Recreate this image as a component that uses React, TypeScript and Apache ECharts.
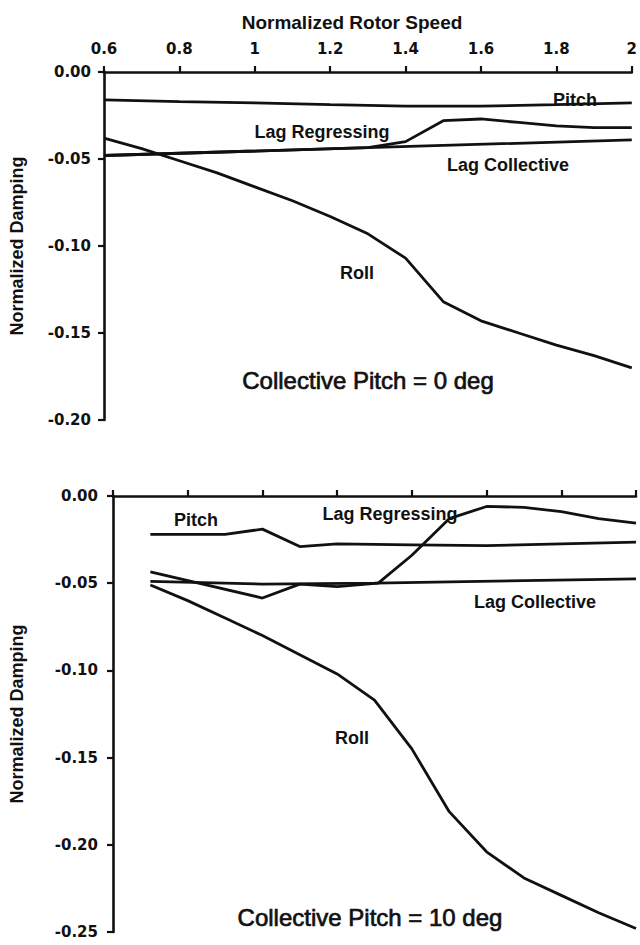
import React, { useEffect, useRef } from "react";
import * as echarts from "echarts";

// Tick labels
const speedTicks = ["0.6", "0.8", "1", "1.2", "1.4", "1.6", "1.8", "2"];
const dampTicks0 = ["0.00", "-0.05", "-0.10", "-0.15", "-0.20"];
const dampTicks10 = ["0.00", "-0.05", "-0.10", "-0.15", "-0.20", "-0.25"];

// Collective pitch = 0 deg
const pitch0Speed = [0.6, 0.8, 1.0, 1.2, 1.4, 1.6, 1.8, 2.0];
const pitch0Damp = [-0.016, -0.017, -0.0178, -0.0188, -0.0196, -0.0196, -0.0188, -0.0178];

const lagColl0Speed = [0.6, 1.3, 2.0];
const lagColl0Damp = [-0.048, -0.0435, -0.039];

const lagReg0Speed = [0.6, 1.3, 1.4, 1.5, 1.6, 1.7, 1.8, 1.9, 2.0];
const lagReg0Damp = [-0.048, -0.0435, -0.040, -0.028, -0.027, -0.029, -0.031, -0.032, -0.032];

const roll0Speed = [0.6, 0.7, 0.8, 0.9, 1.0, 1.1, 1.2, 1.3, 1.4, 1.5, 1.6, 1.7, 1.8, 1.9, 2.0];
const roll0Damp = [-0.038, -0.044, -0.051, -0.058, -0.066, -0.074, -0.083, -0.093, -0.107, -0.132, -0.143, -0.150, -0.157, -0.163, -0.170];

// Collective pitch = 10 deg
const pitch10Speed = [0.7, 0.9, 1.0, 1.1, 1.2, 1.4, 1.6, 1.8, 2.0];
const pitch10Damp = [-0.022, -0.022, -0.019, -0.029, -0.0275, -0.028, -0.0285, -0.0275, -0.0265];

const lagColl10Speed = [0.7, 1.0, 1.3, 2.0];
const lagColl10Damp = [-0.049, -0.0505, -0.050, -0.0475];

const lagReg10Speed = [0.7, 1.0, 1.1, 1.2, 1.31, 1.4, 1.5, 1.6, 1.7, 1.8, 1.9, 2.0];
const lagReg10Damp = [-0.0435, -0.0585, -0.0505, -0.052, -0.050, -0.034, -0.013, -0.006, -0.0065, -0.009, -0.013, -0.0155];

const roll10Speed = [0.7, 0.8, 0.9, 1.0, 1.1, 1.2, 1.3, 1.4, 1.5, 1.6, 1.7, 1.8, 1.9, 2.0];
const roll10Damp = [-0.051, -0.060, -0.070, -0.080, -0.091, -0.102, -0.117, -0.145, -0.181, -0.204, -0.219, -0.229, -0.239, -0.248];

const FONT = "'Liberation Sans', Arial, Helvetica, sans-serif";
const TICK_FONT = "'DejaVu Sans', 'Liberation Sans', sans-serif";
const INK = "#111";

const zip = (xs: number[], ys: number[]) => xs.map((x, i) => [x, ys[i]]);

const curve = (name: string, idx: number, xs: number[], ys: number[]) => ({
  name,
  type: "line",
  xAxisIndex: idx,
  yAxisIndex: idx,
  data: zip(xs, ys),
  symbol: "none",
  smooth: false,
  lineStyle: { color: INK, width: 2.8 },
  z: 3,
});

const label = (text: string, x: number, y: number, size = 18, bold = true) => ({
  type: "text",
  x,
  y,
  style: {
    text,
    fill: INK,
    font: `${bold ? "bold " : ""}${size}px ${FONT}`,
    align: "center",
    verticalAlign: "middle",
    stroke: bold ? undefined : INK,
    lineWidth: bold ? 0 : 0.7,
  },
});

const xAxisBase = (idx: number, showLabels: boolean) => ({
  type: "value",
  gridIndex: idx,
  position: "top",
  min: 0.6,
  max: 2,
  interval: 0.2,
  axisLine: { show: true, onZero: false, lineStyle: { color: INK, width: 2.6 } },
  axisTick: { show: true, inside: false, length: 6, lineStyle: { color: INK, width: 2.2 } },
  splitLine: { show: false },
  axisLabel: {
    show: showLabels,
    margin: 16,
    color: INK,
    fontFamily: TICK_FONT,
    fontWeight: "bold",
    fontSize: 15,
    formatter: (v: number) => speedTicks[Math.round((v - 0.6) / 0.2)] ?? "",
  },
});

const yAxisBase = (idx: number, min: number, ticks: string[], margin: number, gap: number) => ({
  type: "value",
  gridIndex: idx,
  min,
  max: 0,
  interval: 0.05,
  name: "Normalized Damping",
  nameLocation: "middle",
  nameGap: gap,
  nameRotate: 90,
  nameTextStyle: { color: INK, fontFamily: FONT, fontWeight: "bold", fontSize: 18 },
  axisLine: { show: true, onZero: false, lineStyle: { color: INK, width: 2.6 } },
  axisTick: { show: true, inside: false, length: 6, lineStyle: { color: INK, width: 2.2 } },
  splitLine: { show: false },
  axisLabel: {
    margin,
    color: INK,
    fontFamily: TICK_FONT,
    fontWeight: "bold",
    fontSize: 15,
    formatter: (v: number) => ticks[Math.round(-v / 0.05)] ?? "",
  },
});

export default function App() {
  const ref = useRef<HTMLDivElement>(null);

  useEffect(() => {
    if (!ref.current) return;
    const chart = echarts.init(ref.current, null, { renderer: "svg" });
    chart.setOption({
      animation: false,
      backgroundColor: "#fff",
      grid: [
        { left: 99, right: 4, top: 72, height: 348 },
        { left: 108, right: 4, top: 496, height: 436 },
      ],
      xAxis: [xAxisBase(0, true), xAxisBase(1, false)],
      yAxis: [
        yAxisBase(0, -0.2, dampTicks0, 13, 78),
        yAxisBase(1, -0.25, dampTicks10, 15, 87),
      ],
      series: [
        curve("Pitch", 0, pitch0Speed, pitch0Damp),
        curve("Lag Collective", 0, lagColl0Speed, lagColl0Damp),
        curve("Lag Regressing", 0, lagReg0Speed, lagReg0Damp),
        curve("Roll", 0, roll0Speed, roll0Damp),
        curve("Pitch", 1, pitch10Speed, pitch10Damp),
        curve("Lag Collective", 1, lagColl10Speed, lagColl10Damp),
        curve("Lag Regressing", 1, lagReg10Speed, lagReg10Damp),
        curve("Roll", 1, roll10Speed, roll10Damp),
      ],
      graphic: [
        label("Normalized Rotor Speed", 352, 22, 19),
        label("Pitch", 575, 100),
        label("Lag Regressing", 322, 132),
        label("Lag Collective", 508, 165),
        label("Roll", 357, 273),
        label("Collective Pitch = 0 deg", 368, 380, 24, false),
        label("Pitch", 196, 520),
        label("Lag Regressing", 390, 514),
        label("Lag Collective", 535, 602),
        label("Roll", 352, 738),
        label("Collective Pitch = 10 deg", 370, 917, 24, false),
      ],
    });
    return () => chart.dispose();
  }, []);

  return (
    <div
      ref={ref}
      style={{ position: "fixed", left: 0, top: 0, width: 640, height: 945, background: "#fff" }}
    />
  );
}
